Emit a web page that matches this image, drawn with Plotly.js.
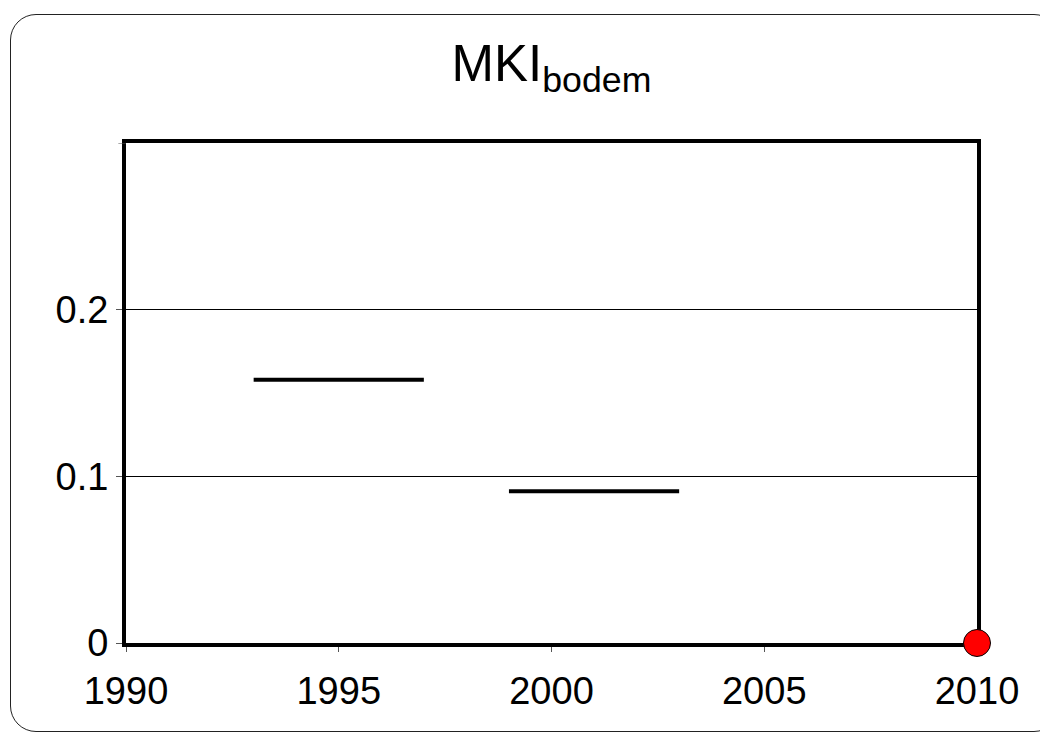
<!DOCTYPE html>
<html>
<head>
<meta charset="utf-8">
<script src="https://cdn.plot.ly/plotly-3.0.1.min.js"></script>
<style>
  html, body { margin: 0; padding: 0; background: #fff; overflow: hidden; }
  #frame { position: absolute; left: 10px; top: 14px; width: 1050px; height: 718px;
           border: 1.5px solid #222; border-radius: 26px; box-sizing: border-box; }
  #chart { position: absolute; left: 0; top: 0; width: 1040px; height: 734px; }
</style>
</head>
<body>
<div id="frame"></div>
<div id="chart"></div>
<script>
// Data
const years = [1993, 1994, 1995, 1996, 1997, 1998, 1999, 2000, 2001, 2002, 2003];
const mkiBodem = [0.158, 0.158, 0.158, 0.158, 0.158, null, 0.091, 0.091, 0.091, 0.091, 0.091];
const targetYear = [2010];
const targetValue = [0];
const xTickVals = [1990, 1995, 2000, 2005, 2010];
const yTickVals = [0, 0.1, 0.2];
const yTickText = ['0', '0.1', '0.2'];
const yMax = 0.3;

const traces = [
  {
    x: years, y: mkiBodem, type: 'scatter', mode: 'lines',
    connectgaps: false,
    line: { color: '#000', width: 4 },
    hoverinfo: 'skip', showlegend: false
  },
  {
    x: targetYear, y: targetValue, type: 'scatter', mode: 'markers',
    marker: { color: '#ff0000', size: 27, line: { color: '#000', width: 1 } },
    cliponaxis: false, showlegend: false
  }
];

const layout = {
  width: 1040, height: 734,
  margin: { l: 126, r: 63, t: 143, b: 91 },
  paper_bgcolor: 'rgba(0,0,0,0)',
  plot_bgcolor: 'rgba(0,0,0,0)',
  font: { family: 'Liberation Sans, Arial, sans-serif', color: '#000' },
  title: {
    text: 'MKI<sub>bodem</sub>',
    font: { size: 51, color: '#000' },
    xref: 'paper', x: 0.5, xanchor: 'center',
    yref: 'container', y: 0.938, yanchor: 'top'
  },
  xaxis: {
    range: [1990, 2010],
    tickvals: xTickVals,
    ticks: 'outside', ticklen: 5, tickwidth: 1, tickcolor: '#555',
    tickfont: { size: 38 },
    ticklabelstandoff: 6,
    showgrid: false, zeroline: false,
    showline: true, linecolor: '#000', linewidth: 4, mirror: true,
    layer: 'below traces'
  },
  yaxis: {
    range: [0, yMax],
    tickvals: yTickVals, ticktext: yTickText,
    ticks: 'outside', ticklen: 6, tickwidth: 1, tickcolor: '#555',
    tickfont: { size: 38 },
    ticklabelstandoff: 0,
    showgrid: true, gridcolor: '#000', gridwidth: 1,
    zeroline: false,
    showline: true, linecolor: '#000', linewidth: 4, mirror: true,
    layer: 'below traces'
  },
  shapes: [
    { type: 'line', xref: 'paper', yref: 'y', x0: -0.009, x1: 0, y0: yMax, y1: yMax,
      line: { color: '#555', width: 1 } }
  ]
};

Plotly.newPlot('chart', traces, layout, { displayModeBar: false, staticPlot: true });
</script>
</body>
</html>
